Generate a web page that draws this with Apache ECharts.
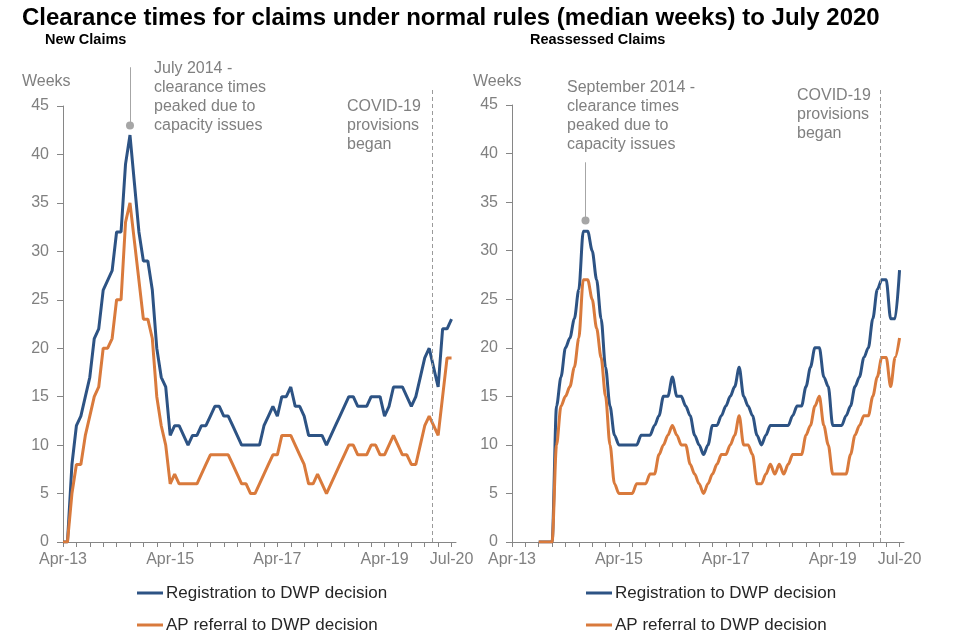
<!DOCTYPE html>
<html><head><meta charset="utf-8">
<script src="https://cdn.jsdelivr.net/npm/echarts@6/dist/echarts.min.js"></script>
<style>html,body{margin:0;padding:0;background:#fff}#c{width:960px;height:640px}</style>
</head><body><div id="c"></div>
<script>
// Monthly categories Apr-13 .. Aug-20 (last slot empty, axis runs to it)
const monthNames = ['Jan','Feb','Mar','Apr','May','Jun','Jul','Aug','Sep','Oct','Nov','Dec'];
const categories = [];
for (let k = 0; k < 89; k++) {
  const m = (3 + k) % 12, y = 13 + Math.floor((3 + k) / 12);
  categories.push(monthNames[m] + '-' + y);
}
const tickLabelIndex = [0, 24, 48, 72, 87]; // Apr-13, Apr-15, Apr-17, Apr-19, Jul-20
const yMax = 45, yStep = 5;

// New Claims
const newRegistration = [0,0,8,12,13,15,17,21,22,26,27,28,32,32,39,42,37,32,29,29,26,20,17,16,
  11,12,12,11,10,11,11,12,12,13,14,14,13,13,12,11,10,10,10,10,10,12,13,14,
  13,15,15,16,14,14,13,11,11,11,11,10,11,12,13,14,15,15,14,14,14,15,15,15,
  13,14,16,16,16,15,14,15,17,19,20,18,16,22,22,23,null];
const newAPReferral = [0,0,5,8,8,11,13,15,16,20,20,21,25,25,33,35,31,27,23,23,21,15,12,10,
  6,7,6,6,6,6,6,7,8,9,9,9,9,9,8,7,6,6,5,5,6,7,8,9,
  9,11,11,11,10,9,8,6,6,7,6,5,6,7,8,9,10,10,9,9,9,10,10,9,
  9,10,11,10,9,9,8,8,10,12,13,12,11,15,19,19,null];

// Reassessed Claims
const reaRegistration = [null,null,null,null,null,null,0,0,0,0,14,17,20,21,23,26,32,32,30,27,23,18,14,11,
  10,10,10,10,10,11,11,11,12,13,15,15,17,15,15,14,13,11,10,9,10,12,12,13,
  14,15,16,18,15,14,13,11,10,11,12,12,12,12,12,13,14,14,16,18,20,20,17,16,
  12,12,12,13,14,16,17,19,20,23,26,27,27,23,23,28,null];
const reaAPReferral = [null,null,null,null,null,null,0,0,0,0,10,14,15,16,18,21,27,27,25,22,19,15,10,6,
  5,5,5,5,6,6,6,7,7,9,10,11,12,11,10,10,8,7,6,5,6,7,8,9,
  9,10,11,13,10,10,9,6,6,7,8,7,8,7,8,9,9,9,11,12,14,15,12,10,
  7,7,7,7,9,11,12,13,13,15,17,19,19,16,19,21,null];

// Annotation positions (month index, weeks)
const covidIndex = 82.7;
const covidTop = 46.8;
const newPeak = [15, 43], newLeaderTop = 49;
const reaPeak = [16.5, 33.1], reaLeaderTop = 39.1;

const BLUE = '#2d5384', ORANGE = '#d97a3c', GREY = '#808080', AXIS = '#868686';
const FONT = 'Liberation Sans, Arial, sans-serif';
const names = ['Registration to DWP decision', 'AP referral to DWP decision'];

// plot geometry
const panels = [
  { left: 63, top: 106, width: 393, height: 436 },
  { left: 512, top: 105, width: 392, height: 437 }
];
const annMax = 50;
function annGrid(p) {
  const h = p.height * annMax / yMax;
  return { left: p.left, width: p.width, top: p.top + p.height - h, height: h };
}

function catAxis(grid) {
  return {
    type: 'category', gridIndex: grid, data: categories, boundaryGap: false,
    axisLine: { lineStyle: { color: AXIS, width: 1 } },
    axisTick: { interval: 2, length: 5, lineStyle: { color: AXIS } },
    axisLabel: {
      interval: (idx) => tickLabelIndex.indexOf(idx) >= 0,
      color: GREY, fontSize: 16, margin: 10, fontFamily: FONT
    },
    splitLine: { show: false }
  };
}
function yAxis(grid) {
  return {
    type: 'value', gridIndex: grid, min: 0, max: yMax, interval: yStep,
    axisLine: { show: true, lineStyle: { color: AXIS } },
    axisTick: { show: true, length: 6, lineStyle: { color: AXIS } },
    axisLabel: { color: GREY, fontSize: 16, margin: 14, fontFamily: FONT },
    splitLine: { show: false }
  };
}
function lineSeries(name, data, color, idx, smooth) {
  return {
    name, type: 'line', data, xAxisIndex: idx, yAxisIndex: idx,
    symbol: 'none', smooth: smooth, smoothMonotone: 'x',
    lineStyle: { color, width: 3 }, itemStyle: { color },
    connectNulls: false, silent: true, animation: false
  };
}
function annSeries(idx, peak, top) {
  return {
    type: 'line', data: [], xAxisIndex: idx, yAxisIndex: idx, clip: false, silent: true, animation: false,
    markLine: {
      silent: true, symbol: 'none', animation: false, label: { show: false },
      data: [
        [{ coord: [covidIndex, 0], lineStyle: { color: '#9a9a9a', width: 1, type: [4, 3] } },
         { coord: [covidIndex, covidTop] }],
        [{ coord: [peak[0], peak[1]], lineStyle: { color: '#a6a6a6', width: 1, type: 'solid' } },
         { coord: [peak[0], top] }]
      ]
    },
    markPoint: {
      silent: true, animation: false, symbol: 'circle', symbolSize: 8,
      itemStyle: { color: '#a6a6a6' }, label: { show: false },
      data: [{ coord: peak }]
    }
  };
}
function txt(text, left, top, size, color, weight, lh) {
  return { text, left, top, padding: 0,
    textStyle: { fontSize: size, color, fontWeight: weight || 'normal', fontFamily: FONT, lineHeight: lh || Math.round(size * 1.2) } };
}
function legend(left) {
  return {
    left, top: 583, orient: 'vertical', padding: 0, itemGap: 12, itemWidth: 26, itemHeight: 3,
    icon: 'rect', selectedMode: false, data: names,
    textStyle: { fontSize: 17, color: '#262626', fontFamily: FONT, lineHeight: 20, padding: [0, 0, 0, -2] }
  };
}

const chart = echarts.init(document.getElementById('c'), null, { renderer: 'canvas' });
chart.setOption({
  animation: false,
  backgroundColor: '#fff',
  title: [
    txt('Clearance times for claims under normal rules (median weeks) to July 2020', 22, 4, 24, '#000', 'bold', 28),
    txt('New Claims', 45, 31, 14.5, '#000', 'bold', 17),
    txt('Reassessed Claims', 530, 31, 14.5, '#000', 'bold', 17),
    txt('Weeks', 22, 72, 16, GREY, 'normal', 19),
    txt('Weeks', 473, 72, 16, GREY, 'normal', 19),
    txt('July 2014 -\nclearance times\npeaked due to\ncapacity issues', 154, 59, 16, GREY, 'normal', 19),
    txt('COVID-19\nprovisions\nbegan', 347, 97, 16, GREY, 'normal', 19),
    txt('September 2014 -\nclearance times\npeaked due to\ncapacity issues', 567, 78, 16, GREY, 'normal', 19),
    txt('COVID-19\nprovisions\nbegan', 797, 86, 16, GREY, 'normal', 19)
  ],
  legend: [legend(137), legend(586)],
  grid: [panels[0], panels[1], annGrid(panels[0]), annGrid(panels[1])],
  xAxis: [catAxis(0), catAxis(1),
    { type: 'value', gridIndex: 2, min: 0, max: categories.length - 1, show: false },
    { type: 'value', gridIndex: 3, min: 0, max: categories.length - 1, show: false }],
  yAxis: [yAxis(0), yAxis(1),
    { type: 'value', gridIndex: 2, min: 0, max: annMax, show: false },
    { type: 'value', gridIndex: 3, min: 0, max: annMax, show: false }],
  series: [
    lineSeries(names[0], newRegistration, BLUE, 0, false),
    lineSeries(names[1], newAPReferral, ORANGE, 0, false),
    lineSeries(names[0], reaRegistration, BLUE, 1, 0.3),
    lineSeries(names[1], reaAPReferral, ORANGE, 1, 0.3),
    annSeries(2, newPeak, newLeaderTop),
    annSeries(3, reaPeak, reaLeaderTop)
  ]
});
</script>
</body></html>
